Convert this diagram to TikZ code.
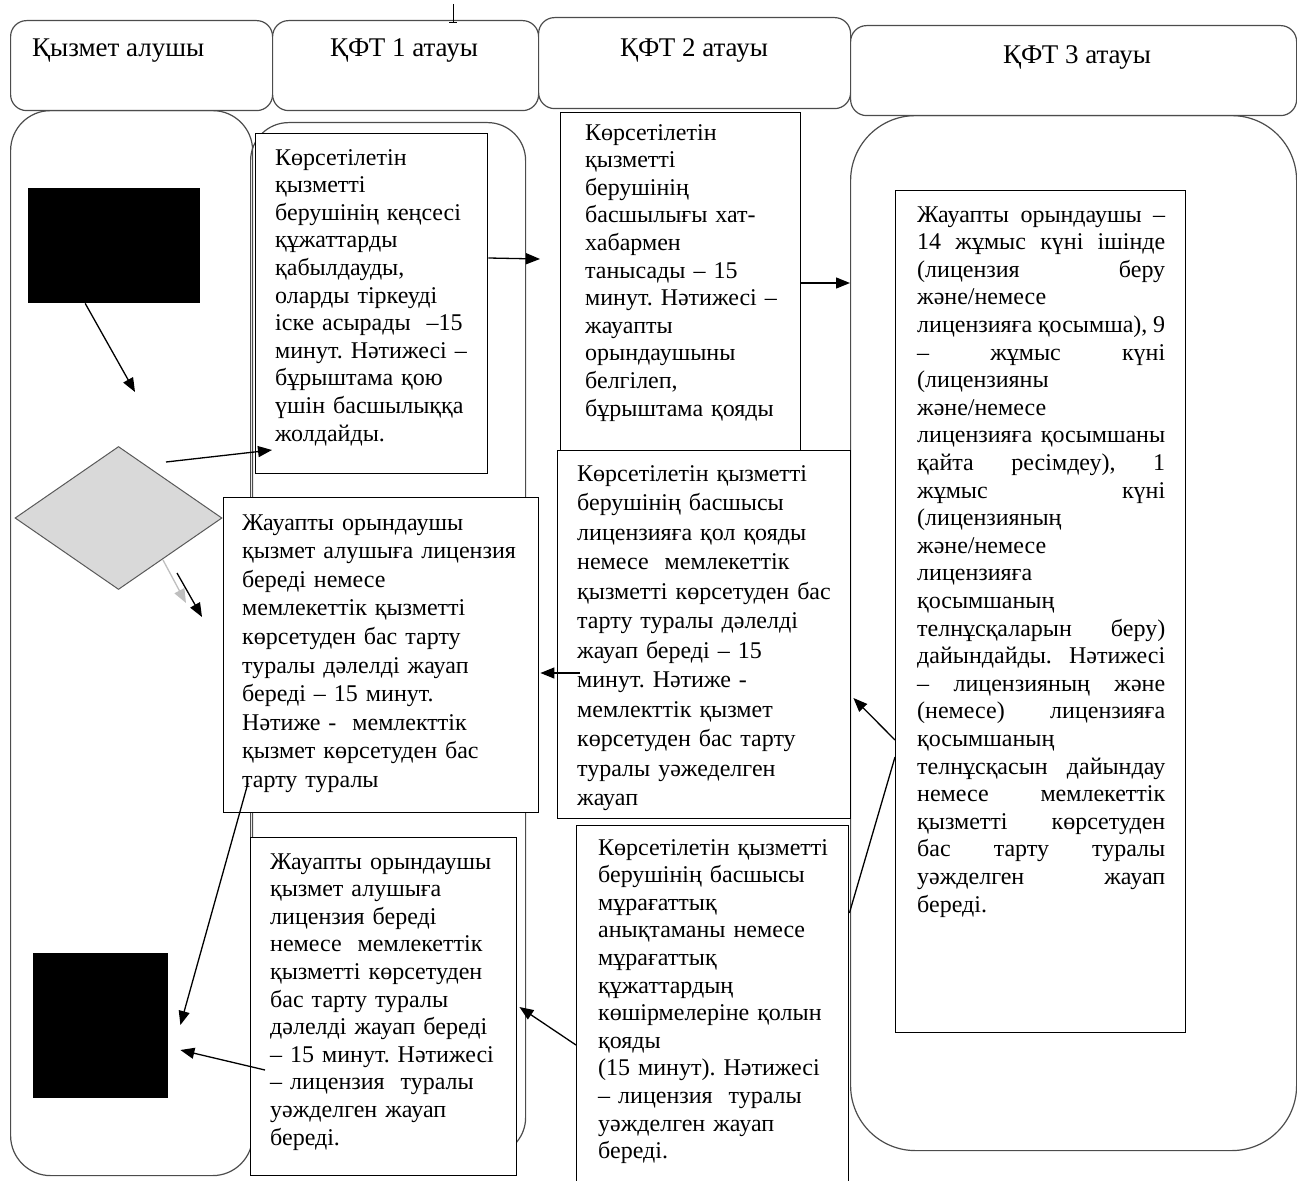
\documentclass[tikz,border=0pt]{standalone}
\usepackage{fontspec}
\setmainfont{Liberation Serif}
\usetikzlibrary{arrows.meta,shapes.geometric}
\begin{document}
\frenchspacing
\begin{tikzpicture}[x=1pt,y=-1pt,
 hdr/.style={draw=black!70, line width=1.2pt, rounded corners=16pt, fill=white, inner sep=0pt, anchor=north west},
 lane/.style={draw=black!70, line width=1.2pt, inner sep=0pt, anchor=north west},
 pbox/.style={draw=black, line width=1.4pt, fill=white, inner sep=0pt, anchor=north west},
 blk/.style={fill=black, inner sep=0pt, anchor=north west},
 txt/.style={anchor=base west, inner sep=0pt, align=left, text width=#1, font=\fontsize{24}{27.6}\selectfont},
 jtxt/.style={anchor=base west, inner sep=0pt, align=justify, text width=#1, font=\fontsize{24}{27.6}\selectfont},
 htxt/.style={anchor=base, inner sep=0pt, font=\fontsize{27}{30}\selectfont},
 arr/.style={-{Triangle[length=14pt,width=11pt]}, line width=1.3pt},
 garr/.style={-{Triangle[length=14pt,width=11pt]}, line width=1.3pt, draw=black!25, fill=black!25},
]
\useasboundingbox (0,0) rectangle (1297,1180);

% lanes
\node[lane, rounded corners=40pt, minimum width=242pt, minimum height=1065pt] (l1) at (10,110) {};
\node[lane, rounded corners=38pt, minimum width=275pt, minimum height=1033pt] (l2) at (250,122) {};
\node[lane, rounded corners=65pt, minimum width=446pt, minimum height=1035pt] (l4) at (850,115) {};

% headers
\node[hdr, minimum width=262pt, minimum height=90pt] (h1) at (10,20) {};
\node[hdr, minimum width=266pt, minimum height=90pt] (h2) at (272,20) {};
\node[hdr, minimum width=312pt, minimum height=91pt] (h3) at (538,17) {};
\node[hdr, minimum width=446pt, minimum height=90pt] (h4) at (850,25) {};
\node[htxt, anchor=base west] (h1t) at (32,57) {Қызмет алушы};
\node[htxt] (h2t) at (404,57) {ҚФТ 1 атауы};
\node[htxt] (h3t) at (694,57) {ҚФТ 2 атауы};
\node[htxt] (h4t) at (1077,64) {ҚФТ 3 атауы};

% cursor mark
\draw[line width=0.8pt] (453,4) -- (453,22);
\draw[line width=0.8pt] (449,22) -- (457,22);

% black start/end shapes
\node[blk, minimum width=172pt, minimum height=115pt] (A) at (28,188) {};
\node[blk, minimum width=135pt, minimum height=145pt] (K) at (33,953) {};

% boxes
\node[pbox, minimum width=232pt, minimum height=340pt] (B) at (255,133) {};
\node[txt=212pt] (Bt) at (275,165) {Көрсетілетін\\ қызметті\\ берушінің кеңсесі\\ құжаттарды\\ қабылдауды,\\ оларды тіркеуді\\ іске асырады~ –15\\ минут. Нәтижесі –\\ бұрыштама қою\\ үшін басшылыққа\\ жолдайды.};

\node[pbox, minimum width=240pt, minimum height=338pt] (C) at (560,112) {};
\node[txt=210pt] (Ct) at (585,140) {Көрсетілетін\\ қызметті\\ берушінің\\ басшылығы хат-\\ хабармен\\ танысады – 15\\ минут. Нәтижесі –\\ жауапты\\ орындаушыны\\ белгілеп,\\ бұрыштама қояды};

\node[pbox, minimum width=293pt, minimum height=368pt] (E) at (557,450) {};
\node[txt=270pt, font=\fontsize{24}{29.5}\selectfont] (Et) at (577,481) {Көрсетілетін қызметті\\ берушінің басшысы\\ лицензияға қол қояды\\ немесе~ мемлекеттік\\ қызметті көрсетуден бас\\ тарту туралы дәлелді\\ жауап береді – 15\\ минут. Нәтиже -\\ мемлекттік қызмет\\ көрсетуден бас тарту\\ туралы уәжеделген\\ жауап};

\node[pbox, minimum width=290pt, minimum height=842pt] (D) at (895,190) {};
\node[jtxt=248pt] (Dt) at (917,222) {Жауапты орындаушы –\linebreak
14 жұмыс күні ішінде\linebreak
(лицензия беру\linebreak
және/немесе\\
лицензияға қосымша), 9\linebreak
– жұмыс күні\linebreak
(лицензияны\\
және/немесе\\
лицензияға қосымшаны\linebreak
қайта ресімдеу), 1\linebreak
жұмыс күні\linebreak
(лицензияның\\
және/немесе\\
лицензияға\\
қосымшаның\\
телнұсқаларын беру)\linebreak
дайындайды. Нәтижесі\linebreak
– лицензияның және\linebreak
(немесе) лицензияға\linebreak
қосымшаның\\
телнұсқасын дайындау\linebreak
немесе мемлекеттік\linebreak
қызметті көрсетуден\linebreak
бас тарту туралы\linebreak
уәжделген жауап\linebreak
береді.};

\node[pbox, minimum width=315pt, minimum height=315pt] (F) at (223,497) {};
\node[txt=292pt, font=\fontsize{24}{28.6}\selectfont] (Ft) at (242,530) {Жауапты орындаушы\\ қызмет алушыға лицензия\\ береді немесе\\ мемлекеттік қызметті\\ көрсетуден бас тарту\\ туралы дәлелді жауап\\ береді – 15 минут.\\ Нәтиже -~ мемлекттік\\ қызмет көрсетуден бас\\ тарту туралы};

\node[pbox, minimum width=272pt, minimum height=380pt] (G) at (576,825) {};
\node[txt=250pt] (Gt) at (598,855) {Көрсетілетін қызметті\\ берушінің басшысы\\ мұрағаттық\\ анықтаманы немесе\\ мұрағаттық\\ құжаттардың\\ көшірмелеріне қолын\\ қояды\\ (15 минут). Нәтижесі\\ – лицензия~ туралы\\ уәжделген жауап\\ береді.};

\node[pbox, minimum width=266pt, minimum height=338pt] (H) at (250,837) {};
\node[txt=244pt] (Ht) at (270,869) {Жауапты орындаушы\\ қызмет алушыға\\ лицензия береді\\ немесе~ мемлекеттік\\ қызметті көрсетуден\\ бас тарту туралы\\ дәлелді жауап береді\\ – 15 минут. Нәтижесі\\ – лицензия~ туралы\\ уәжделген жауап\\ береді.};

\node[diamond, draw=black!65, fill=black!15, line width=1pt, inner sep=0pt, minimum width=207pt, minimum height=143pt] (dia) at (118.5,518) {};

% connectors
\draw[arr] ([shift={(-29,0)}]A.south) -- ([shift={(16.5,-54)}]dia.north);
\draw[arr] ([shift={(47.5,16)}]dia.north) -- ([shift={(17,317)}]B.north west);
\draw[garr] ([shift={(44.5,-30)}]dia.south) -- ([shift={(-37,106)}]F.north west);
\draw[arr] ([shift={(58.5,-17)}]dia.south) -- ([shift={(-21,120)}]F.north west);
\draw[arr] ([shift={(0,125)}]B.north east) -- ([shift={(-20,147)}]C.north west);
\draw[arr] ([shift={(0,171)}]C.north east) -- ([shift={(0,168)}]l4.north west);
\draw[arr] ([shift={(0,550)}]D.north west) -- ([shift={(2,248)}]E.north east);
\draw[line width=1.3pt] ([shift={(0,567)}]D.north west) -- ([shift={(0,88)}]G.north east);
\draw[arr] ([shift={(23,223)}]E.north west) -- ([shift={(1,176)}]F.north east);
\draw[arr] ([shift={(25,286)}]F.north west) -- ([shift={(12,72)}]K.north east);
\draw[arr] ([shift={(0,220)}]G.north west) -- ([shift={(2,170)}]H.north east);
\draw[arr] ([shift={(15,233)}]H.north west) -- ([shift={(12,97)}]K.north east);
\end{tikzpicture}
\end{document}
